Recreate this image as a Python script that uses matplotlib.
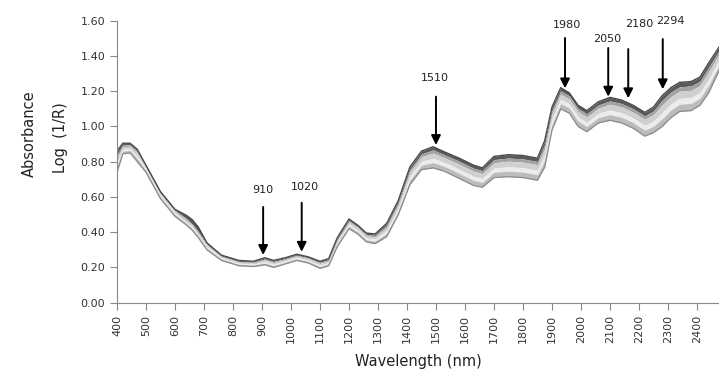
import numpy as np
import matplotlib.pyplot as plt

# ── spectra ───────────────────────────────────────────────────────────────────
wavelength = [400, 420, 445, 470, 500, 550, 600, 640, 660, 680, 710, 760, 820, 870,
              910, 940, 980, 1020, 1060, 1100, 1130, 1160, 1200, 1230, 1260, 1290,
              1330, 1370, 1410, 1450, 1490, 1530, 1580, 1630, 1660, 1700, 1750, 1800,
              1850, 1875, 1900, 1930, 1960, 1990, 2020, 2060, 2100, 2140, 2180, 2220,
              2250, 2280, 2310, 2340, 2380, 2410, 2440, 2480]

spec_1 = [0.86, 0.905, 0.905, 0.87, 0.78, 0.63, 0.53, 0.495, 0.47, 0.43, 0.34, 0.27,
          0.24, 0.235, 0.255, 0.24, 0.255, 0.275, 0.26, 0.235, 0.25, 0.37, 0.475, 0.44,
          0.395, 0.39, 0.45, 0.58, 0.77, 0.86, 0.885, 0.855, 0.82, 0.78, 0.765, 0.83,
          0.84, 0.835, 0.82, 0.92, 1.11, 1.22, 1.19, 1.12, 1.09, 1.14, 1.165, 1.15,
          1.12, 1.08, 1.11, 1.175, 1.22, 1.25, 1.255, 1.28, 1.36, 1.46]
spec_2 = [0.84, 0.895, 0.897, 0.86, 0.774, 0.624, 0.524, 0.478, 0.445, 0.405, 0.334,
          0.265, 0.235, 0.23, 0.249, 0.234, 0.25, 0.27, 0.255, 0.229, 0.244, 0.362,
          0.467, 0.433, 0.388, 0.382, 0.439, 0.568, 0.755, 0.844, 0.867, 0.839, 0.803,
          0.763, 0.749, 0.812, 0.821, 0.816, 0.801, 0.898, 1.09, 1.202, 1.173, 1.102,
          1.072, 1.122, 1.145, 1.13, 1.10, 1.06, 1.088, 1.149, 1.195, 1.225, 1.23,
          1.256, 1.335, 1.44]
spec_3 = [0.825, 0.885, 0.888, 0.85, 0.768, 0.618, 0.518, 0.468, 0.44, 0.395, 0.328,
          0.261, 0.231, 0.226, 0.243, 0.228, 0.245, 0.265, 0.25, 0.223, 0.238, 0.355,
          0.458, 0.425, 0.38, 0.373, 0.428, 0.556, 0.74, 0.828, 0.849, 0.822, 0.786,
          0.746, 0.732, 0.794, 0.803, 0.798, 0.783, 0.875, 1.07, 1.184, 1.155, 1.084,
          1.054, 1.104, 1.126, 1.111, 1.081, 1.04, 1.067, 1.122, 1.169, 1.20, 1.205,
          1.232, 1.309, 1.42]
spec_4 = [0.795, 0.87, 0.875, 0.83, 0.758, 0.608, 0.508, 0.455, 0.43, 0.385, 0.318,
          0.254, 0.224, 0.219, 0.233, 0.218, 0.236, 0.256, 0.241, 0.213, 0.228, 0.342,
          0.445, 0.412, 0.367, 0.36, 0.409, 0.536, 0.715, 0.802, 0.819, 0.795, 0.757,
          0.717, 0.705, 0.764, 0.771, 0.766, 0.751, 0.838, 1.04, 1.154, 1.127, 1.054,
          1.024, 1.074, 1.093, 1.078, 1.048, 1.006, 1.03, 1.079, 1.127, 1.159, 1.164,
          1.192, 1.267, 1.39]
spec_5 = [0.77, 0.86, 0.864, 0.818, 0.75, 0.60, 0.50, 0.45, 0.42, 0.38, 0.31, 0.248,
          0.218, 0.213, 0.225, 0.21, 0.229, 0.249, 0.234, 0.205, 0.22, 0.332, 0.434,
          0.402, 0.357, 0.349, 0.394, 0.52, 0.695, 0.78, 0.795, 0.773, 0.734, 0.694,
          0.683, 0.74, 0.746, 0.741, 0.726, 0.808, 1.01, 1.13, 1.104, 1.03, 1.00, 1.05,
          1.067, 1.052, 1.022, 0.979, 1.001, 1.044, 1.093, 1.126, 1.131, 1.16, 1.233,
          1.36]
spec_6 = [0.74, 0.845, 0.85, 0.80, 0.74, 0.59, 0.49, 0.44, 0.41, 0.37, 0.30, 0.24,
          0.21, 0.205, 0.215, 0.20, 0.22, 0.24, 0.225, 0.195, 0.21, 0.32, 0.42, 0.39,
          0.345, 0.335, 0.375, 0.50, 0.67, 0.755, 0.765, 0.745, 0.705, 0.665, 0.655,
          0.71, 0.715, 0.71, 0.695, 0.77, 0.98, 1.10, 1.075, 1.00, 0.97, 1.02, 1.035,
          1.02, 0.99, 0.945, 0.965, 1.00, 1.05, 1.085, 1.09, 1.12, 1.19, 1.33]

spectra = [spec_1, spec_2, spec_3, spec_4, spec_5, spec_6]
layer_colors = ["#5a5a5a", "#a2a2a2", "#d0d0d0", "#ececec", "#bcbcbc"]

# ── band annotations ──────────────────────────────────────────────────────────
band_labels = ["910", "1020", "1510", "1980", "2050", "2180", "2294"]
arrow_x     = [904, 1037, 1500, 1945, 2094, 2163, 2282]
arrow_tail  = [0.543, 0.567, 1.169, 1.502, 1.445, 1.439, 1.496]
arrow_tip   = [0.271, 0.289, 0.895, 1.216, 1.169, 1.160, 1.211]
label_x     = [903, 1048, 1497, 1951, 2089, 2200, 2307]
label_y     = [0.639, 0.656, 1.275, 1.576, 1.496, 1.581, 1.600]

# ── figure ────────────────────────────────────────────────────────────────────
fig = plt.figure(figsize=(7.19, 3.82), dpi=100)
ax = fig.add_axes([0.1627, 0.2076, 0.8373, 0.7382])

for k, col in enumerate(layer_colors):
    ax.fill_between(wavelength, spectra[k], spectra[k + 1], color=col, lw=0)
ax.plot(wavelength, spec_1, color="#4a4a4a", lw=1.0, solid_joinstyle="round")
ax.plot(wavelength, spec_6, color="#8c8c8c", lw=0.9, solid_joinstyle="round")

for lab, x, yt, yp, lx, ly in zip(band_labels, arrow_x, arrow_tail, arrow_tip,
                                   label_x, label_y):
    ax.annotate("", xy=(x, yp), xytext=(x, yt),
                arrowprops=dict(arrowstyle="-|>", color="black", lw=1.4,
                                mutation_scale=14, shrinkA=0, shrinkB=0))
    ax.text(lx, ly, lab, ha="center", va="center", fontsize=8, color="#222222")

ax.set_xlim(400, 2476)
ax.set_ylim(0, 1.6)
ax.set_xticks(np.arange(400, 2401, 100))
ax.set_yticks(np.arange(0, 1.61, 0.2))
ax.set_yticklabels([f"{v:.2f}" for v in np.arange(0, 1.61, 0.2)])
ax.tick_params(axis="x", rotation=90)
ax.tick_params(colors="#888888", labelcolor="#333333", labelsize=8,
               length=5, width=0.8, direction="out")
for side in ("top", "right"):
    ax.spines[side].set_visible(False)
for side in ("left", "bottom"):
    ax.spines[side].set_color("#888888")
    ax.spines[side].set_linewidth(0.8)

ax.set_xlabel("Wavelength (nm)", fontsize=10.5, color="#222222", labelpad=8)
fig.text(29 / 719, 0.649, "Absorbance", rotation=90, ha="center", va="center",
         fontsize=10.5, color="#222222")
fig.text(61 / 719, 0.641, "Log  (1/R)", rotation=90, ha="center", va="center",
         fontsize=10.5, color="#222222")

fig.savefig("out.png", dpi=100)
